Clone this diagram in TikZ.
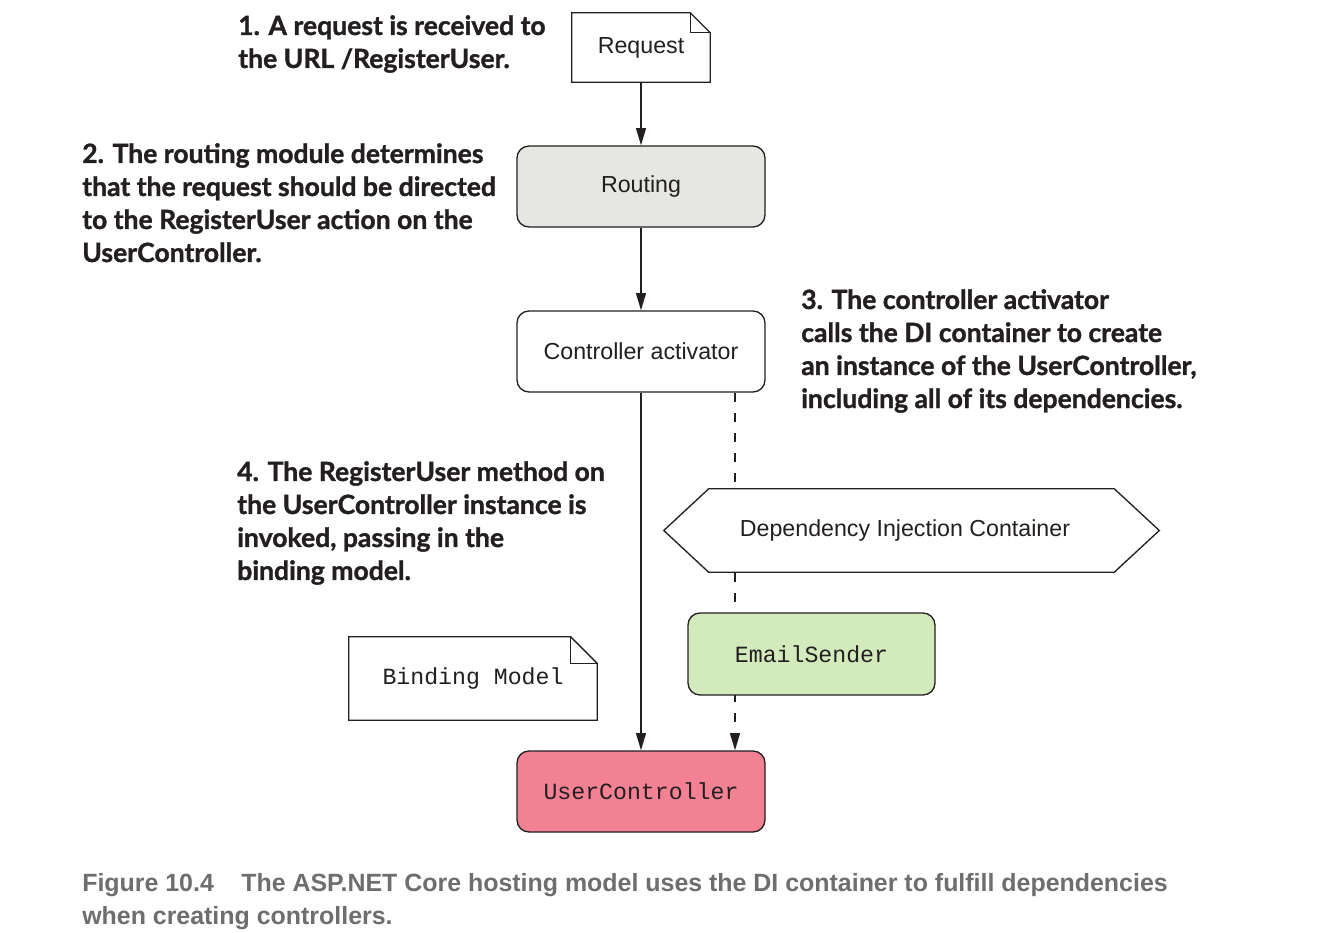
\documentclass[tikz,border=0pt]{standalone}
\usepackage{fontspec}
\setmainfont{Liberation Sans}
\setmonofont{Liberation Mono}
\newfontfamily\annotfont[FakeBold=1.2]{Lato}
\newfontfamily\capfont{Liberation Sans}
\usetikzlibrary{arrows.meta,backgrounds}
\pgfdeclarelayer{mid}
\pgfsetlayers{background,mid,main}
\definecolor{routefill}{HTML}{E6E7E3}
\definecolor{emailfill}{HTML}{D3EBBC}
\definecolor{ucfill}{HTML}{F38194}
\definecolor{capgray}{HTML}{6D6E70}
\definecolor{inktext}{HTML}{231F20}
\tikzset{
  box/.style={draw=inktext, line width=1pt, rounded corners=9pt, minimum width={248*0.75pt}, minimum height={81*0.75pt}, font=\fontsize{17.4pt}{20pt}\selectfont, text=inktext},
  monobox/.style={box, font=\ttfamily\fontsize{17.4pt}{20pt}\selectfont},
  docbox/.style={minimum width={#1}, inner sep=0pt, font=\fontsize{17.4pt}{20pt}\selectfont, text=inktext},
  docline/.style={draw=inktext, line width=1pt, line join=miter},
  annot/.style={anchor=north west, inner sep=0pt, align=left, text=inktext, font=\annotfont\bfseries\fontsize{19.9pt}{24.75pt}\selectfont},
  arr/.style={draw=inktext, line width=1pt, -{Triangle[length=13pt,width=7.5pt]}},
  dasharr/.style={arr, dash pattern=on 7pt off 8pt},
}
\begin{document}
\begin{tikzpicture}[x=0.75pt,y=-0.75pt]
\begin{pgfonlayer}{background}
\fill[white] (0,0) rectangle (1331,932);
\end{pgfonlayer}
\useasboundingbox (0,0) rectangle (1331,932);

% Request document
\node[docbox={138*0.75pt}, minimum height={69*0.75pt}] (req) at (641,47.5) {Request};
\draw[docline] (req.north west) -- ([xshift=-15pt]req.north east) -- ([yshift=-15pt]req.north east) -- (req.south east) -- (req.south west) -- cycle;
\draw[docline] ([xshift=-15pt]req.north east) -- ([xshift=-15pt,yshift=-15pt]req.north east) -- ([yshift=-15pt]req.north east);

\node[box, fill=routefill] (routing) at (641,186.5) {Routing};
\node[box, fill=white] (act) at (641,351.5) {Controller activator};

% DI container (hexagon)
\node[inner sep=0pt, minimum width={495*0.75pt}, minimum height={83*0.75pt}, font=\fontsize{17.4pt}{20pt}\selectfont, text=inktext] (di) at (905,530.5) {Dependency Injection Container};
\begin{pgfonlayer}{mid}
\draw[docline, fill=white] ([xshift=38.6pt]di.north west) -- ([xshift=-28.9pt]di.north east) -- ([xshift=4.9pt]di.east) -- ([xshift=-28.9pt]di.south east) -- ([xshift=38.6pt]di.south west) -- ([xshift=4.9pt]di.west) -- cycle;
\end{pgfonlayer}

\node[monobox, fill=emailfill, minimum width={247*0.75pt}, minimum height={82*0.75pt}] (email) at (811.5,654) {EmailSender};

% Binding model document
\node[docbox={248*0.75pt}, minimum height={83*0.75pt}, font=\ttfamily\fontsize{17.4pt}{20pt}\selectfont] (bind) at (473,678.5) {Binding Model};
\draw[docline] (bind.north west) -- ([xshift=-20pt]bind.north east) -- ([yshift=-20pt]bind.north east) -- (bind.south east) -- (bind.south west) -- cycle;
\draw[docline] ([xshift=-20pt]bind.north east) -- ([xshift=-20pt,yshift=-20pt]bind.north east) -- ([yshift=-20pt]bind.north east);

\node[monobox, fill=ucfill] (uc) at (641,791.5) {UserController};

% connectors
\draw[arr] (req) -- (routing);
\draw[arr] (routing) -- (act);
\draw[arr] (act) -- (uc);
\begin{pgfonlayer}{background}
\draw[dasharr] ([xshift=70.5pt]act.south) -- ([xshift=70.5pt]uc.north);
\end{pgfonlayer}

% annotations
\node[annot] (a1) at (238,15) {1. A request is received to\\the URL /RegisterUser.};
\node[annot] (a2) at (82,143) {2. The routing module determines\\that the request should be directed\\to the RegisterUser action on the\\UserController.};
\node[annot] (a3) at (801,289) {3. The controller activator\\calls the DI container to create\\an instance of the UserController,\\including all of its dependencies.};
\node[annot] (a4) at (237,461) {4. The RegisterUser method on\\the UserController instance is\\invoked, passing in the\\binding model.};

% caption
\node[anchor=north west, inner sep=0pt, align=left, text=capgray, font=\capfont\bfseries\fontsize{18.7pt}{25pt}\selectfont] (cap) at (82,873) {Figure 10.4\hspace{1.1em}The ASP.NET Core hosting model uses the DI container to fulfill dependencies\\when creating controllers.};
\end{tikzpicture}
\end{document}
